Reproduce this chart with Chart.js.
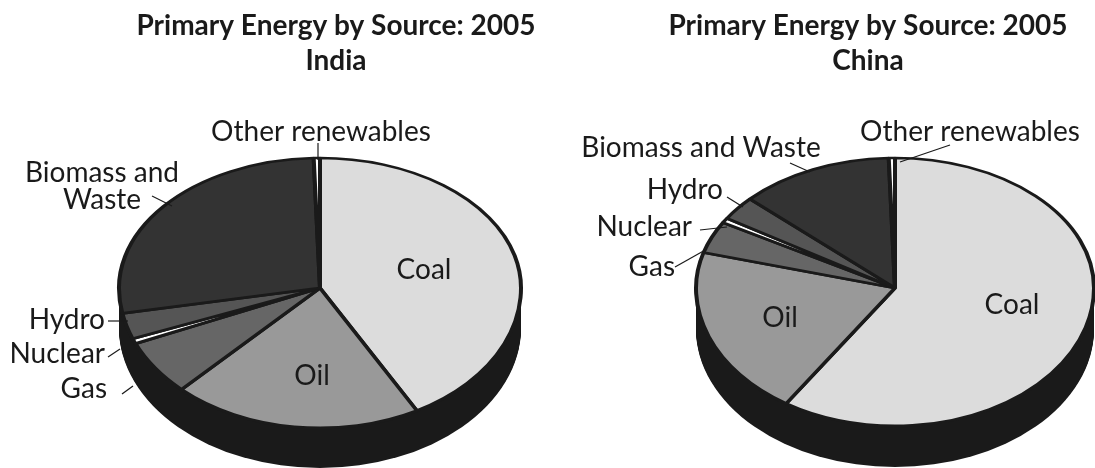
<!DOCTYPE html>
<html>
<head>
<meta charset="utf-8">
<style>
	html, body { margin: 0; padding: 0; background: #fff; overflow: hidden; width: 1095px; height: 468px; }
	canvas { position: absolute; top: 0; }
	#indiaChart { left: 0; }
	#chinaChart { left: 580px; }
</style>
<script src="https://cdn.jsdelivr.net/npm/chart.js@4/dist/chart.umd.min.js"></script>
</head>
<body>
<canvas id="indiaChart" width="672" height="468"></canvas>
<canvas id="chinaChart" width="576" height="468"></canvas>
<script>
const sources = ['Coal', 'Oil', 'Gas', 'Nuclear', 'Hydro', 'Biomass and Waste', 'Other renewables'];
const indiaShares = [42.0, 20.1, 6.4, 0.6, 3.0, 27.4, 0.5];
const chinaShares = [59.2, 20.2, 4.0, 0.6, 3.0, 12.5, 0.5];
const sliceColors = ['#dcdcdc', '#999999', '#666666', '#ffffff', '#555555', '#333333', '#ffffff'];

const chartTitle = 'Primary Energy by Source: 2005';
const inkColor = '#1a1a1a';
const labelFont = '28px Lato';

// page coordinates: text, x, y, align
const indiaLabels = [
	['Other renewables', 321, 132, 'center'],
	['Coal', 424, 270, 'center'],
	['Oil', 312, 376, 'center'],
	['Biomass and', 102, 173, 'center'],
	['Waste', 102, 200, 'center'],
	['Hydro', 105, 320, 'right'],
	['Nuclear', 105, 354, 'right'],
	['Gas', 107, 389, 'right']
];
const indiaLeaders = [
	[318, 143, 318, 160],
	[152, 196, 172, 206],
	[108, 321, 128, 321],
	[108, 357, 120, 349],
	[122, 394, 133, 386]
];
const chinaLabels = [
	['Other renewables', 970, 132, 'center'],
	['Biomass and Waste', 701, 148, 'center'],
	['Hydro', 723, 190, 'right'],
	['Nuclear', 692, 227, 'right'],
	['Gas', 675, 267, 'right'],
	['Oil', 780, 318, 'center'],
	['Coal', 1012, 305, 'center']
];
const chinaLeaders = [
	[900, 162, 950, 145],
	[790, 163, 810, 172],
	[727, 197, 743, 207],
	[700, 230, 727, 227],
	[675, 267, 707, 249]
];

//	clip one half of the canvas and squash the pie around its apex
function enterHalf(chart, opts, isUpper) {
	const arc = chart.getDatasetMeta(0).data[0];
	const ctx = chart.ctx;
	const radiusY = isUpper ? opts.radiusUp : opts.radiusDown;
	ctx.save();
	ctx.beginPath();
	if (isUpper) {
		ctx.rect(0, 0, chart.width, opts.centerY);
	} else {
		ctx.rect(0, opts.centerY, chart.width, chart.height - opts.centerY);
	}
	ctx.clip();
	ctx.translate(opts.centerX, opts.centerY);
	ctx.scale(1, radiusY / opts.radiusX);
	ctx.translate(-arc.x, -arc.y);
}

//	the near half of the pie is a little deeper than the far half, as in a perspective view
const tiltPlugin = {
	id: 'tilt',
	beforeDatasetsDraw(chart, args, opts) {
		const ctx = chart.ctx;
		ctx.save();
		ctx.fillStyle = inkColor;
		for (let d = 0; d <= opts.depth; d++) {
			ctx.beginPath();
			ctx.ellipse(opts.centerX, opts.centerY + d, opts.radiusX, opts.radiusDown, 0, 0, Math.PI);
			ctx.ellipse(opts.centerX, opts.centerY + d, opts.radiusX, opts.radiusUp, 0, Math.PI, Math.PI * 2);
			ctx.fill();
		}
		ctx.restore();
		enterHalf(chart, opts, true);
	},
	afterDatasetsDraw(chart, args, opts) {
		chart.ctx.restore();
		enterHalf(chart, opts, false);
		chart.getDatasetMeta(0).controller.draw();
		chart.ctx.restore();
	}
};

const labelPlugin = {
	id: 'sliceLabels',
	afterDraw(chart, args, opts) {
		const ctx = chart.ctx;
		ctx.save();
		ctx.strokeStyle = inkColor;
		ctx.lineWidth = 1.2;
		opts.leaders.forEach(l => {
			ctx.beginPath();
			ctx.moveTo(l[0] - opts.pageLeft, l[1]);
			ctx.lineTo(l[2] - opts.pageLeft, l[3]);
			ctx.stroke();
		});
		ctx.fillStyle = inkColor;
		ctx.font = labelFont;
		ctx.textBaseline = 'middle';
		opts.labels.forEach(l => {
			ctx.textAlign = l[3];
			ctx.fillText(l[0], l[1] - opts.pageLeft, l[2]);
		});
		ctx.restore();
	}
};

function makePie(id, country, shares, tilt, labels, leaders, pageLeft) {
	return new Chart(document.getElementById(id).getContext('2d'), {
		type: 'pie',
		data: {
			labels: sources,
			datasets: [{
				data: shares,
				backgroundColor: sliceColors,
				borderColor: inkColor,
				borderWidth: 4,
				radius: tilt.radiusX,
				clip: false
			}]
		},
		options: {
			responsive: false,
			animation: false,
			plugins: {
				legend: { display: false },
				tooltip: { enabled: false },
				title: {
					display: true,
					text: [chartTitle, country],
					color: inkColor,
					font: { family: 'Lato', size: 28, weight: 'bold', lineHeight: 1.25 },
					padding: { top: 8, bottom: 0 }
				},
				tilt: tilt,
				sliceLabels: { labels: labels, leaders: leaders, pageLeft: pageLeft }
			}
		},
		plugins: [tiltPlugin, labelPlugin]
	});
}

makePie('indiaChart', 'India', indiaShares,
	{ centerX: 320, centerY: 288, radiusX: 201, radiusUp: 130, radiusDown: 140, depth: 40 },
	indiaLabels, indiaLeaders, 0);
makePie('chinaChart', 'China', chinaShares,
	{ centerX: 315, centerY: 288, radiusX: 199, radiusUp: 130, radiusDown: 138, depth: 41 },
	chinaLabels, chinaLeaders, 580);
</script>
</body>
</html>
